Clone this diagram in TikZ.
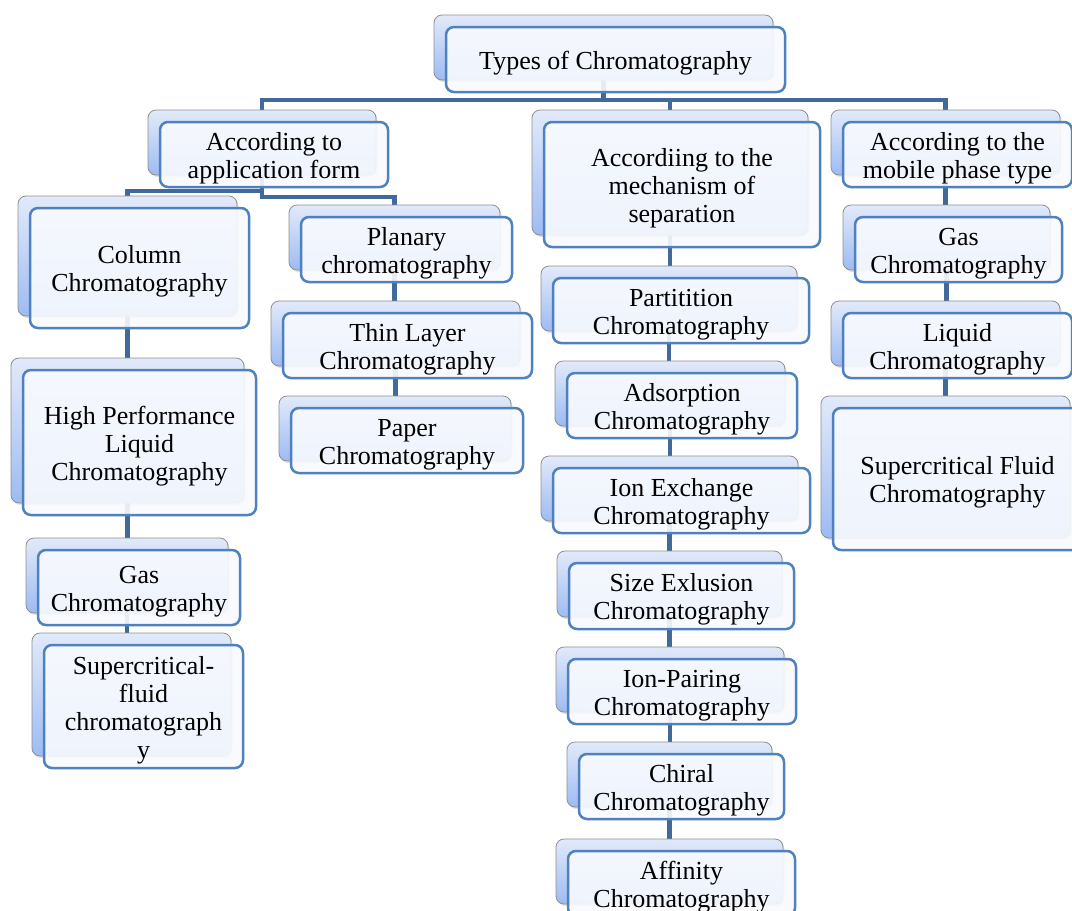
\documentclass[tikz,border=0pt]{standalone}
\usepackage{fontspec}
\setmainfont{Liberation Serif}
\usetikzlibrary{shadows,backgrounds}

\definecolor{conncol}{HTML}{41699B}
\definecolor{frontborder}{HTML}{4F81BD}
\definecolor{backtop}{HTML}{E2EAFA}
\definecolor{backbot}{HTML}{9DBBF3}
\definecolor{backborder}{HTML}{8E8E8E}
\definecolor{frontfill}{HTML}{F8FAFE}

\tikzset{
  conn/.style={draw=conncol, line width=4.5pt},
  backbox/.style={rectangle, rounded corners=8pt, draw=backborder, line width=0.8pt,
    top color=backtop, bottom color=backbot,
    drop shadow={shadow xshift=1.5pt, shadow yshift=-2pt, opacity=0.25}},
  frontbox/.style={rectangle, rounded corners=8pt, draw=frontborder, line width=2.5pt,
    fill=frontfill, fill opacity=0.9, text opacity=1, align=center,
    font=\fontsize{26}{28}\selectfont, inner sep=0pt},
}

\newcommand\tstrutx{\rule{0pt}{25pt}}
\newcommand\cbox[6]{%
  \node[backbox, minimum width=#4pt, minimum height=#5pt] (#1-b) at ({#2-12},{#3-12}) {};
  \node[frontbox, minimum width=#4pt, minimum height=#5pt] (#1) at (#2,#3) {\tstrutx#6};
}

\begin{document}
\begin{tikzpicture}[x=1pt,y=-1pt]
\useasboundingbox (0,0) rectangle (1072,911);
\clip (0,0) rectangle (1072,911);

% root
\cbox{types}{615.5}{59.5}{339}{65}{Types of Chromatography}
% level 1
\cbox{app}{274}{154.5}{228}{65}{According to\\application form}
\cbox{mech}{682}{184.5}{276}{125}{Accordiing to the\\mechanism of\\separation}
\cbox{mob}{957.5}{154.5}{229}{65}{According to the\\mobile phase type}
% application form children
\cbox{col}{139.5}{268}{219}{120}{Column\\Chromatography}
\cbox{hplc}{139.5}{442.5}{233}{145}{High Performance\\Liquid\\Chromatography}
\cbox{gasL}{139}{587.5}{202}{75}{Gas\\Chromatography}
\cbox{scfL}{143.5}{706.5}{199}{123}{Supercritical-\\fluid\\chromatograph\\y}
\cbox{plan}{406.5}{249.5}{211}{65}{Planary\\chromatography}
\cbox{thin}{407.5}{345.5}{249}{65}{Thin Layer\\Chromatography}
\cbox{paper}{407}{440.5}{232}{65}{Paper\\Chromatography}
% mechanism children
\cbox{part}{681}{310.5}{256}{65}{Partitition\\Chromatography}
\cbox{ads}{682}{405.5}{230}{65}{Adsorption\\Chromatography}
\cbox{ion}{681.5}{500.5}{257}{65}{Ion Exchange\\Chromatography}
\cbox{size}{681.5}{596}{225}{66}{Size Exlusion\\Chromatography}
\cbox{pair}{682}{691.5}{228}{65}{Ion-Pairing\\Chromatography}
\cbox{chir}{681.5}{786.5}{205}{65}{Chiral\\Chromatography}
\cbox{aff}{681.5}{883.5}{227}{65}{Affinity\\Chromatography}
% mobile phase children
\cbox{gasR}{958.5}{249.5}{207}{65}{Gas\\Chromatography}
\cbox{liq}{957.5}{345.5}{229}{65}{Liquid\\Chromatography}
\cbox{scfR}{957.5}{479}{249}{142}{Supercritical Fluid\\Chromatography}

\begin{scope}[on background layer]
  \coordinate (L1) at (0,100);
  \coordinate (A1) at (0,191);
  \coordinate (A2) at (0,197);
  \draw[conn] (types-b.center) |- (app-b.center |- L1) -- (app-b.center);
  \draw[conn] (types-b.center) |- (mob-b.center |- L1) -- (mob-b.center);
  \draw[conn] (mech-b.center |- L1) -- (mech-b.center);
  \draw[conn] (app-b.center) |- (col-b.center |- A1) -- (col-b.center);
  \draw[conn] (app-b.center) |- (plan-b.center |- A2) -- (plan-b.center);
  \draw[conn] (col-b.center) |- (hplc-b.center);
  \draw[conn] (hplc-b.center) |- (gasL-b.center);
  \draw[conn] (gasL-b.center) |- (scfL-b.center);
  \draw[conn] (plan-b.center) |- (thin-b.center);
  \draw[conn] (thin-b.center) |- (paper-b.center);
  \draw[conn] (mech-b.center) |- (part-b.center);
  \draw[conn] (part-b.center) |- (ads-b.center);
  \draw[conn] (ads-b.center) |- (ion-b.center);
  \draw[conn] (ion-b.center) |- (size-b.center);
  \draw[conn] (size-b.center) |- (pair-b.center);
  \draw[conn] (pair-b.center) |- (chir-b.center);
  \draw[conn] (chir-b.center) |- (aff-b.center);
  \draw[conn] (mob-b.center) |- (gasR-b.center);
  \draw[conn] (gasR-b.center) |- (liq-b.center);
  \draw[conn] (liq-b.center) |- (scfR-b.center);
\end{scope}
\end{tikzpicture}
\end{document}
